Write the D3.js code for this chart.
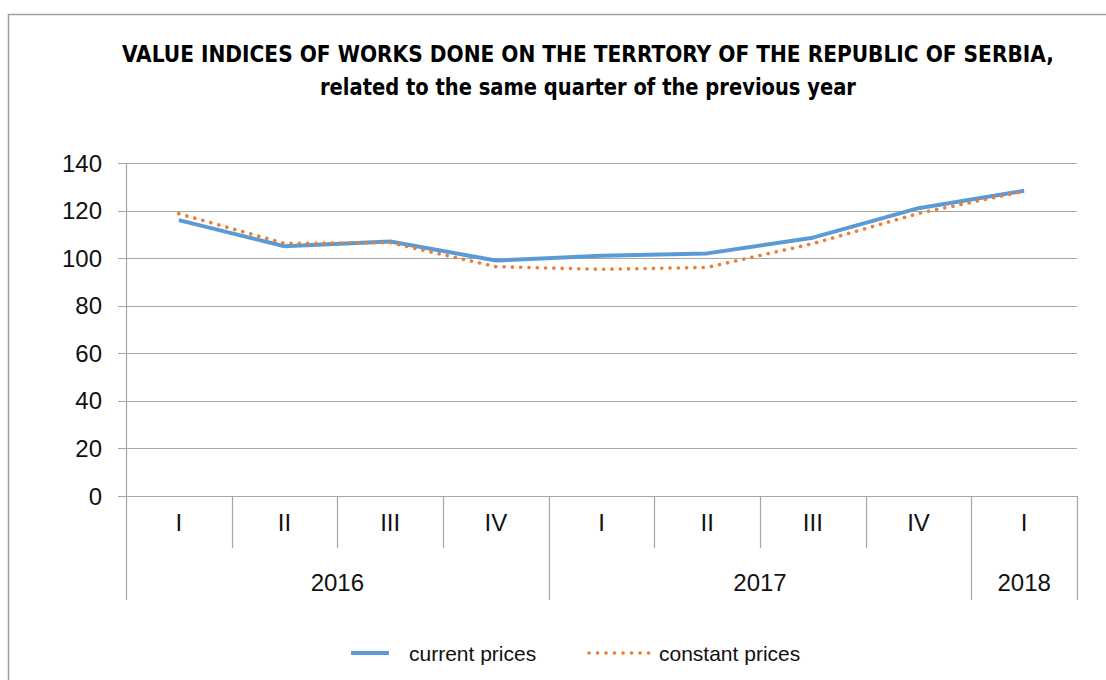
<!DOCTYPE html>
<html>
<head>
<meta charset="utf-8">
<script src="https://cdn.jsdelivr.net/npm/d3@7"></script>
<style>
  body { margin: 0; background: #fff; }
  svg { display: block; }
</style>
</head>
<body>
<div id="chart"></div>
<script>
var quarters = ["I", "II", "III", "IV", "I", "II", "III", "IV", "I"];
var years = [
  { year: "2016", from: 0, to: 4 },
  { year: "2017", from: 4, to: 8 },
  { year: "2018", from: 8, to: 9 }
];
var currentPrices = [116, 105, 107, 99, 101, 102, 108.6, 121, 128.3];
var constantPrices = [118.7, 106.2, 106.5, 96.4, 95.3, 96.1, 106.1, 118.8, 128.1];
var yTicks = [0, 20, 40, 60, 80, 100, 120, 140];

var width = 1106, height = 680;
var plotLeft = 126, plotRight = 1077, plotTop = 163, plotBottom = 496;

var svg = d3.select('#chart')
    .append('svg')
    .attr('width', width)
    .attr('height', height);

// outer frame (cut off at right and bottom like the source)
svg.append('rect')
    .attr('x', 8.5).attr('y', 14.5)
    .attr('width', 1200).attr('height', 1000)
    .attr('fill', 'none')
    .attr('stroke', '#a0a0a0')
    .attr('stroke-width', 1.5);

svg.append('text')
    .attr('x', 588).attr('y', 62)
    .attr('text-anchor', 'middle')
    .style('font-family', 'Liberation Sans Narrow, DejaVu Sans Condensed, sans-serif')
    .style('font-weight', 'bold')
    .style('font-size', '23px')
    .attr('textLength', 932).attr('lengthAdjust', 'spacingAndGlyphs')
    .text('VALUE INDICES OF WORKS DONE ON THE TERRTORY OF THE REPUBLIC OF SERBIA,');

svg.append('text')
    .attr('x', 588).attr('y', 95)
    .attr('text-anchor', 'middle')
    .style('font-family', 'Liberation Sans Narrow, DejaVu Sans Condensed, sans-serif')
    .style('font-weight', 'bold')
    .style('font-size', '23px')
    .attr('textLength', 536).attr('lengthAdjust', 'spacingAndGlyphs')
    .text('related to the same quarter of the previous year');

var x = d3.scaleBand()
    .domain(d3.range(quarters.length))
    .range([plotLeft, plotRight]);

var y = d3.scaleLinear()
    .domain([0, 140])
    .range([plotBottom, plotTop]);

// gridlines
svg.append('g')
    .selectAll('line')
    .data(yTicks)
    .enter().append('line')
    .attr('x1', plotLeft - 8).attr('x2', plotRight)
    .attr('y1', function(d){ return Math.round(y(d)) + 0.5; })
    .attr('y2', function(d){ return Math.round(y(d)) + 0.5; })
    .attr('stroke', '#a6a6a6')
    .attr('stroke-width', 1.2);

svg.append('g')
    .selectAll('text')
    .data(yTicks)
    .enter().append('text')
    .attr('x', 102)
    .attr('y', function(d){ return y(d); })
    .attr('dy', '0.36em')
    .attr('text-anchor', 'end')
    .style('font-family', 'Liberation Sans, Arial, sans-serif')
    .style('font-size', '24px')
    .attr('fill', '#111')
    .text(function(d){ return d; });

// y axis line
svg.append('line')
    .attr('x1', plotLeft + 0.5).attr('x2', plotLeft + 0.5)
    .attr('y1', plotTop).attr('y2', 600)
    .attr('stroke', '#a6a6a6').attr('stroke-width', 1.2);

// category separators
svg.append('g')
    .selectAll('line')
    .data(d3.range(1, quarters.length + 1))
    .enter().append('line')
    .attr('x1', function(i){ return Math.round(plotLeft + i * x.bandwidth()) + 0.5; })
    .attr('x2', function(i){ return Math.round(plotLeft + i * x.bandwidth()) + 0.5; })
    .attr('y1', plotBottom)
    .attr('y2', function(i){ return (i === 4 || i === 8 || i === 9) ? 600 : 548; })
    .attr('stroke', '#a6a6a6').attr('stroke-width', 1.2);

svg.append('g')
    .selectAll('text')
    .data(quarters)
    .enter().append('text')
    .attr('x', function(d, i){ return x(i) + x.bandwidth() / 2; })
    .attr('y', 531)
    .attr('text-anchor', 'middle')
    .style('font-family', 'Liberation Sans, Arial, sans-serif')
    .style('font-size', '24px')
    .attr('fill', '#111')
    .text(function(d){ return d; });

svg.append('g')
    .selectAll('text')
    .data(years)
    .enter().append('text')
    .attr('x', function(d){ return plotLeft + (d.from + d.to) / 2 * x.bandwidth(); })
    .attr('y', 591)
    .attr('text-anchor', 'middle')
    .style('font-family', 'Liberation Sans, Arial, sans-serif')
    .style('font-size', '24px')
    .attr('fill', '#111')
    .text(function(d){ return d.year; });

var line = d3.line()
    .x(function(d, i){ return x(i) + x.bandwidth() / 2; })
    .y(function(d){ return y(d); });

svg.append('path')
    .datum(currentPrices)
    .attr('d', line)
    .attr('fill', 'none')
    .attr('stroke', '#5b9bd5')
    .attr('stroke-width', 4)
    .attr('stroke-linejoin', 'round');

svg.append('path')
    .datum(constantPrices)
    .attr('d', line)
    .attr('fill', 'none')
    .attr('stroke', '#ed7d31')
    .attr('stroke-width', 3.6)
    .attr('stroke-linecap', 'round')
    .attr('stroke-dasharray', '0.1 8.2');

// legend
var legend = svg.append('g');
legend.append('line')
    .attr('x1', 351).attr('x2', 389).attr('y1', 653).attr('y2', 653)
    .attr('stroke', '#5b9bd5').attr('stroke-width', 4);
legend.append('text')
    .attr('x', 409).attr('y', 661)
    .style('font-family', 'Liberation Sans, Arial, sans-serif')
    .style('font-size', '21px')
    .attr('fill', '#111')
    .text('current prices');
legend.append('line')
    .attr('x1', 589).attr('x2', 650).attr('y1', 653).attr('y2', 653)
    .attr('stroke', '#ed7d31').attr('stroke-width', 3.6)
    .attr('stroke-linecap', 'round')
    .attr('stroke-dasharray', '0.1 8.4');
legend.append('text')
    .attr('x', 659).attr('y', 661)
    .style('font-family', 'Liberation Sans, Arial, sans-serif')
    .style('font-size', '21px')
    .attr('fill', '#111')
    .text('constant prices');
</script>
</body>
</html>
